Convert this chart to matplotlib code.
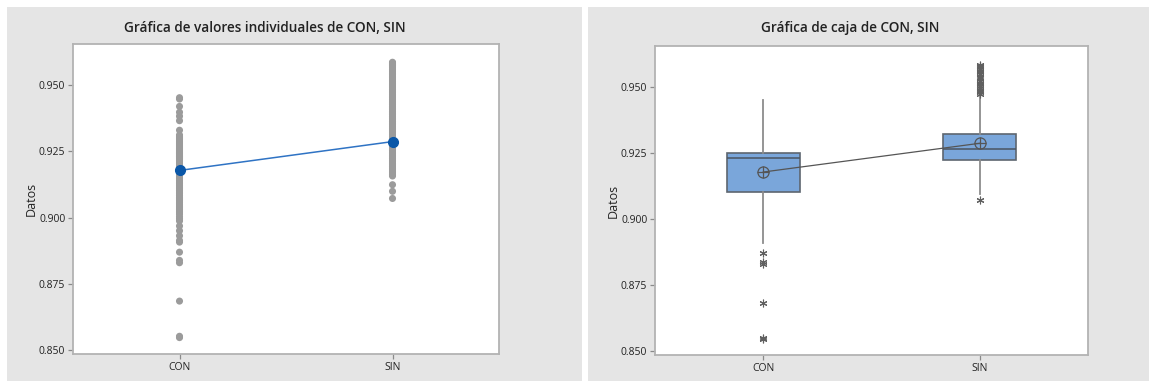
import matplotlib
matplotlib.use("Agg")
import matplotlib.pyplot as plt
from matplotlib.patches import Rectangle

# ---- data -----------------------------------------------------------------
categories = ["CON", "SIN"]
positions = [1, 2]

con_values = [
    0.9453, 0.9448, 0.9420, 0.9398, 0.9383, 0.9366, 0.9330,
    0.9312, 0.9305, 0.9300, 0.9294, 0.9288, 0.9282, 0.9277, 0.9271, 0.9266,
    0.9261, 0.9257, 0.9253, 0.9250, 0.9246, 0.9243, 0.9240, 0.9236, 0.9232,
    0.9229, 0.9225, 0.9221, 0.9216, 0.9210, 0.9204, 0.9198, 0.9192, 0.9185,
    0.9179, 0.9172, 0.9165, 0.9158, 0.9152, 0.9146, 0.9139, 0.9133, 0.9127,
    0.9120, 0.9114, 0.9108, 0.9102, 0.9096, 0.9090, 0.9083, 0.9076, 0.9070,
    0.9063, 0.9056, 0.9050, 0.9043, 0.9036, 0.9030, 0.9024, 0.9018, 0.9012,
    0.9003, 0.8995, 0.8987, 0.8968, 0.8950, 0.8931, 0.8913, 0.8907,
    0.8869, 0.8838, 0.8829, 0.8684, 0.8551, 0.8546,
]

sin_values = [
    0.9587, 0.9584, 0.9580, 0.9576, 0.9572, 0.9566, 0.9560, 0.9553, 0.9546,
    0.9540, 0.9534, 0.9528, 0.9521, 0.9515, 0.9508, 0.9502, 0.9497, 0.9490,
    0.9484, 0.9478, 0.9472, 0.9466, 0.9459, 0.9452, 0.9446, 0.9440, 0.9433,
    0.9427, 0.9420, 0.9414, 0.9408, 0.9401, 0.9395, 0.9389, 0.9382, 0.9376,
    0.9370, 0.9363, 0.9357, 0.9351, 0.9345, 0.9338, 0.9332, 0.9326, 0.9320,
    0.9313, 0.9307, 0.9301, 0.9295, 0.9289, 0.9283, 0.9277, 0.9271, 0.9265,
    0.9259, 0.9253, 0.9247, 0.9241, 0.9235, 0.9229, 0.9223, 0.9217, 0.9211,
    0.9205, 0.9199, 0.9193, 0.9187, 0.9181, 0.9175, 0.9169, 0.9163, 0.9157,
    0.9124, 0.9099, 0.9072,
]

means = [0.9178, 0.9287]

box_q1 = [0.9104, 0.9224]
box_med = [0.9230, 0.9264]
box_q3 = [0.9251, 0.9323]
whisker_lo = [0.8907, 0.9094]
whisker_hi = [0.9452, 0.9466]
outliers_con = [0.8869, 0.8838, 0.8829, 0.8683, 0.8549, 0.8545]
outliers_sin = [0.9072, 0.9475, 0.9480, 0.9486, 0.9491, 0.9497, 0.9503,
                0.9510, 0.9517, 0.9525, 0.9533, 0.9540, 0.9548, 0.9556,
                0.9563, 0.9570, 0.9576, 0.9581, 0.9585]

y_ticks = [0.850, 0.875, 0.900, 0.925, 0.950]
y_tick_labels = ["0.850", "0.875", "0.900", "0.925", "0.950"]

# ---- style ----------------------------------------------------------------
plt.rcParams["font.family"] = ["Open Sans", "DejaVu Sans"]
PANEL = "#e5e5e5"
SPINE = "#b3b3b3"
TEXT = "#222222"

W, H = 1149, 383
fig = plt.figure(figsize=(W / 100, H / 100), dpi=100)
fig.patch.set_facecolor("white")


def px_box(x0, y0, x1, y1):
    return [x0 / W, 1 - y1 / H, (x1 - x0) / W, (y1 - y0) / H]


# grey frames behind each graph
for x0, x1 in [(7, 582), (588, 1149)]:
    fig.patches.append(Rectangle((x0 / W, 1 - 381 / H), (x1 - x0) / W, (381 - 7) / H,
                                 transform=fig.transFigure, facecolor=PANEL,
                                 edgecolor="none", zorder=-10))

ax1 = fig.add_axes(px_box(73, 44, 499, 354), zorder=2)
ax2 = fig.add_axes(px_box(655, 46, 1088, 355), zorder=2)

# ---- individual value plot -----------------------------------------------
ax1.scatter([positions[0]] * len(con_values), con_values, s=26,
            color="#9b9b9b", edgecolors="none", zorder=2)
ax1.scatter([positions[1]] * len(sin_values), sin_values, s=26,
            color="#9b9b9b", edgecolors="none", zorder=2)
ax1.plot(positions, means, color="#2f73c4", lw=1.1, zorder=3)
ax1.plot(positions, means, "o", color="#0a57a8", ms=7, zorder=4)

# ---- box plot ---------------------------------------------------------------
stats = []
fliers = [outliers_con, outliers_sin]
for i in range(2):
    stats.append(dict(q1=box_q1[i], med=box_med[i], q3=box_q3[i],
                      whislo=whisker_lo[i], whishi=whisker_hi[i],
                      fliers=fliers[i], mean=means[i]))

ax2.bxp(stats, positions=positions, widths=0.335, patch_artist=True,
        showcaps=False, showmeans=False,
        boxprops=dict(facecolor="#7aa6da", edgecolor="#5e6670", linewidth=1.2),
        medianprops=dict(color="#4a5561", linewidth=1.1),
        whiskerprops=dict(color="#8c8c8c", linewidth=1.3),
        flierprops=dict(marker=(6, 2, 0), markersize=5.5, markeredgecolor="#606060",
                        markeredgewidth=0.8, linestyle="none"))
ax2.plot(positions, means, color="#555555", lw=0.9, zorder=4)
ax2.plot(positions, means, "o", ms=8, mfc="none", mec="#555555", mew=0.9, zorder=5)
ax2.plot(positions, means, "+", ms=8, mec="#555555", mew=0.9, zorder=5)

# ---- axes styling -------------------------------------------------------------
for ax in (ax1, ax2):
    ax.set_facecolor("white")
    ax.set_xlim(0.5, 2.5)
    ax.set_ylim(0.8484, 0.9656)
    ax.set_xticks(positions)
    ax.set_xticklabels(categories)
    ax.set_yticks(y_ticks)
    ax.set_yticklabels(y_tick_labels)
    for s in ax.spines.values():
        s.set_color(SPINE)
        s.set_linewidth(1.3)
    ax.tick_params(axis="both", colors="#8a8a8a", labelcolor=TEXT,
                   labelsize=7.5, length=3.5, width=0.9, pad=2)
    ax.set_ylabel("Datos", fontsize=9, color=TEXT, labelpad=1)

# ---- titles -------------------------------------------------------------------
fig.text(264.5 / W, 1 - 27.5 / H, "Gráfica de valores individuales de CON, SIN",
         ha="center", va="center", fontsize=9.8, fontweight="semibold", color=TEXT)
fig.text(850 / W, 1 - 28 / H, "Gráfica de caja de CON, SIN",
         ha="center", va="center", fontsize=9.8, fontweight="semibold", color=TEXT)

fig.savefig("out.png", dpi=100, facecolor="white")
